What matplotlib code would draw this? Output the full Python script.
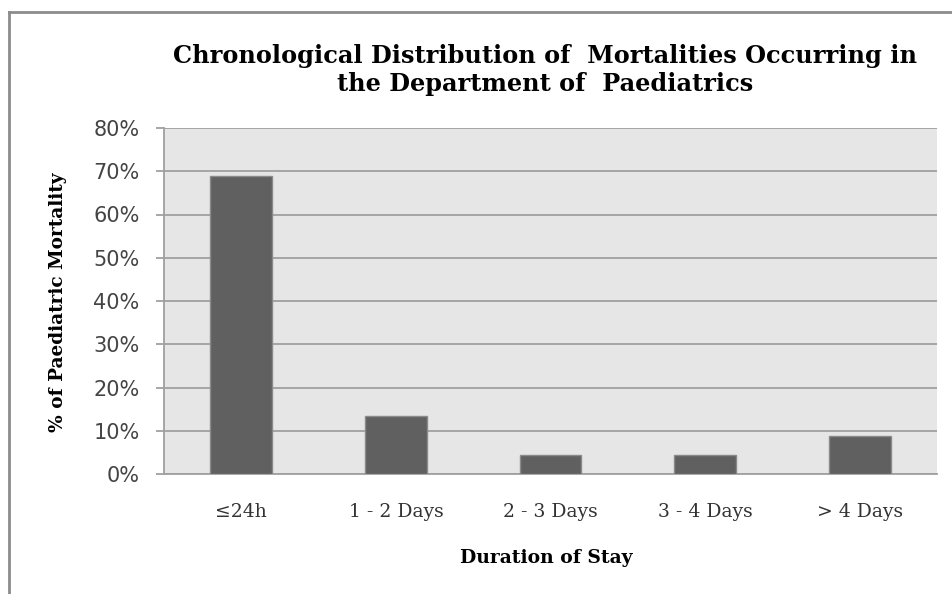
import matplotlib
matplotlib.use("Agg")
import matplotlib.pyplot as plt
from matplotlib.ticker import FuncFormatter
from matplotlib.lines import Line2D

categories = ["\u226424h", "1 - 2 Days", "2 - 3 Days", "3 - 4 Days", "> 4 Days"]
values = [68.9, 13.3, 4.4, 4.4, 8.9]
yticks = [0, 10, 20, 30, 40, 50, 60, 70, 80]

title = "Chronological Distribution of  Mortalities Occurring in\nthe Department of  Paediatrics"
xlabel = "Duration of Stay"
ylabel = "% of Paediatric Mortality"

W, H = 953, 594
fig = plt.figure(figsize=(W/100, H/100), dpi=100)
fig.patch.set_facecolor("white")
ax = fig.add_axes([164/W, 1-474/H, 773/W, 346/H])
ax.set_facecolor("#e6e6e6")

x = list(range(len(categories)))
ax.bar(x, values, width=0.4, color="#606060", edgecolor="#8a8a8a", linewidth=1, zorder=3)

ax.set_xlim(-0.5, len(categories)-0.5)
ax.set_ylim(0, 80)
ax.set_yticks(yticks)
ax.yaxis.set_major_formatter(FuncFormatter(lambda v, p: f"{int(v)}%"))
ax.grid(axis="y", color="#a0a0a0", linewidth=1.3, zorder=1)
ax.set_axisbelow(True)

for s in ["top", "right"]:
    ax.spines[s].set_visible(False)
for s in ["left", "bottom"]:
    ax.spines[s].set_color("#a0a0a0")
    ax.spines[s].set_linewidth(1.3)

ax.set_xticks(x)
ax.set_xticklabels(categories, fontfamily="DejaVu Serif", fontsize=13.5, color="#333333")
ax.tick_params(axis="x", length=0, pad=21)
ax.tick_params(axis="y", length=6, width=1.3, color="#a0a0a0", pad=11.5,
               labelsize=15, labelcolor="#444444")
for lbl in ax.get_yticklabels():
    lbl.set_fontfamily("DejaVu Sans")

fig.text(546/W, 1-558/H, xlabel, ha="center", va="center", fontfamily="DejaVu Serif",
         fontweight="bold", fontsize=13.5)
fig.text(58/W, 1-302/H, ylabel, ha="center", va="center", rotation=90,
         fontfamily="DejaVu Serif", fontweight="bold", fontsize=13.3)

fig.text(545/W, 1-70/H, title, ha="center", va="center", fontfamily="DejaVu Serif",
         fontweight="bold", fontsize=17.3, linespacing=1.2)

# outer frame (left and top borders)
fig.add_artist(Line2D([9/W, 9/W], [0, 1-12/H], transform=fig.transFigure, color="#8c8c8c", linewidth=2))
fig.add_artist(Line2D([9/W, 1], [1-12/H, 1-12/H], transform=fig.transFigure, color="#8c8c8c", linewidth=2))

fig.savefig("out.png", dpi=100)
